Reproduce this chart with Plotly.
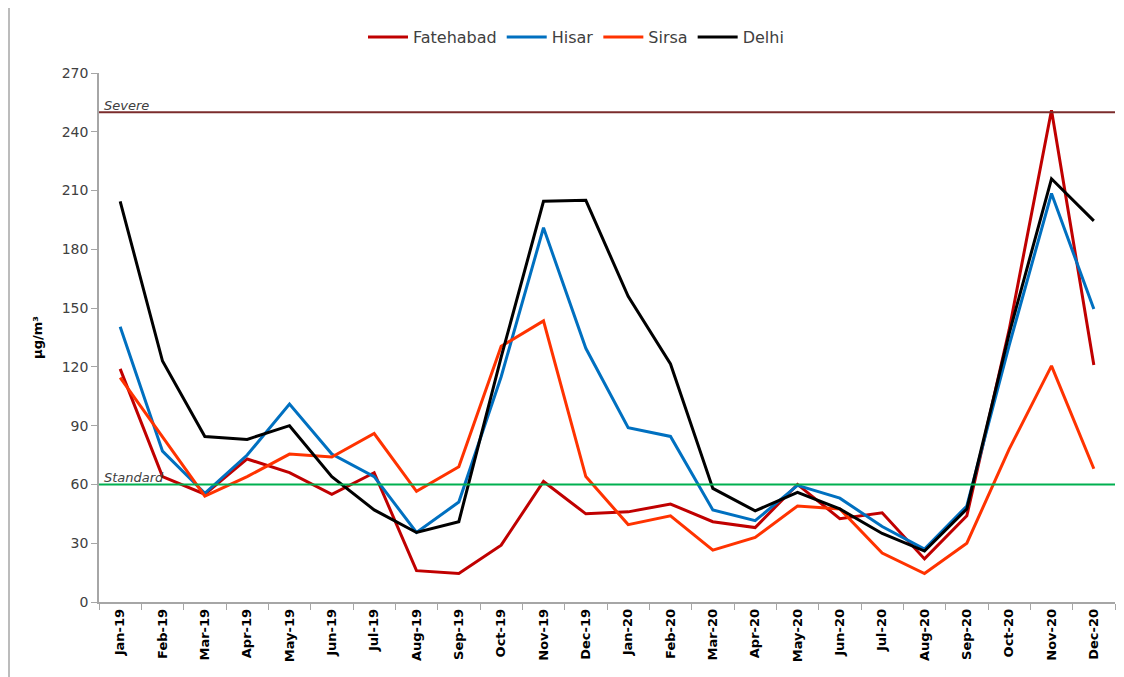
import plotly.graph_objects as go

months = ["Jan-19", "Feb-19", "Mar-19", "Apr-19", "May-19", "Jun-19", "Jul-19", "Aug-19",
          "Sep-19", "Oct-19", "Nov-19", "Dec-19", "Jan-20", "Feb-20", "Mar-20", "Apr-20",
          "May-20", "Jun-20", "Jul-20", "Aug-20", "Sep-20", "Oct-20", "Nov-20", "Dec-20"]

fatehabad = [119, 64, 55, 73, 66, 55, 66, 16, 14.5, 29, 61.5, 45, 46, 50, 41, 38,
             60, 42.5, 45.5, 22, 44, 139, 251, 121]
hisar = [140.5, 77, 55.5, 75, 101, 75.5, 64, 35.5, 51, 115, 191, 129.5, 89, 84.5, 47, 41.5,
         59.5, 53, 38.5, 27, 49, 131, 208.5, 149.5]
sirsa = [114.5, 84, 54, 64, 75.5, 74, 86, 56.5, 69, 130.5, 143.5, 64, 39.5, 44, 26.5, 33,
         49, 47.5, 25, 14.5, 30, 78, 120.5, 68]
delhi = [204.5, 123, 84.5, 83, 90, 64, 47, 35.5, 41, 125, 204.5, 205, 156, 121.5, 58, 46.5,
         56, 47.5, 35, 26, 47.5, 137, 216, 194.5]

severe_level = 250
standard_level = 60
y_ticks = [0, 30, 60, 90, 120, 150, 180, 210, 240, 270]

FONT = "'DejaVu Sans', sans-serif"

L, R, T, B = 91, 17, 63, 83
W, H = 1124, 677
PW, PH = W - L - R, H - T - B

fig = go.Figure()
series = [("Fatehabad", fatehabad, "#C00000"),
          ("Hisar", hisar, "#0070C0"),
          ("Sirsa", sirsa, "#FF3300"),
          ("Delhi", delhi, "#000000")]
for name, vals, col in series:
    fig.add_trace(go.Scatter(x=months, y=vals, name=name, mode="lines",
                             line=dict(color=col, width=3)))

fig.add_shape(type="line", xref="paper", yref="y", x0=0, x1=1,
              y0=severe_level, y1=severe_level, line=dict(color="#7B2C2C", width=2))
fig.add_shape(type="line", xref="paper", yref="y", x0=0, x1=1,
              y0=standard_level, y1=standard_level, line=dict(color="#00B050", width=2))
# outer chart border
fig.add_shape(type="rect", xref="paper", yref="paper",
              x0=-(L - 1) / PW, x1=1 + (R - 6) / PW, y0=-(B - 4) / PH, y1=1 + (T + 10) / PH,
              line=dict(color="#A6A6A6", width=1.5), layer="below")

fig.add_annotation(xref="paper", yref="y", x=0.003, y=severe_level, text="<i>Severe</i>",
                   showarrow=False, xanchor="left", yanchor="bottom", yshift=-3,
                   font=dict(family=FONT, size=13, color="#404040"))
fig.add_annotation(xref="paper", yref="y", x=0.003, y=standard_level, text="<i>Standard</i>",
                   showarrow=False, xanchor="left", yanchor="bottom", yshift=-3,
                   font=dict(family=FONT, size=13, color="#404040"))

fig.update_layout(
    width=W, height=H,
    margin=dict(l=L, r=R, t=T, b=B),
    paper_bgcolor="white", plot_bgcolor="white",
    font=dict(family=FONT, color="#404040"),
    showlegend=True,
    legend=dict(orientation="h", x=(576 - 8 - L) / PW, xanchor="center",
                y=1 + 36 / PH, yanchor="middle",
                font=dict(family=FONT, size=16, color="#404040"),
                itemwidth=40, tracegroupgap=0),
    xaxis=dict(type="category", categoryorder="array", categoryarray=months,
               range=[-0.5, len(months) - 0.5],
               tickson="boundaries", ticks="outside", ticklen=6, tickcolor="#A6A6A6",
               showline=True, linecolor="#A6A6A6", linewidth=1.5, showgrid=False,
               tickangle=-90, tickfont=dict(family=FONT, size=13, color="#000000"),
               tickprefix="<b>", ticksuffix="</b>", zeroline=False),
    yaxis=dict(range=[0, 270], tickvals=y_ticks, ticks="outside", ticklen=6,
               tickcolor="#A6A6A6", showline=True, linecolor="#A6A6A6", linewidth=1.5,
               showgrid=False, zeroline=False,
               tickfont=dict(family=FONT, size=14, color="#404040"),
               title=dict(text="<b>µg/m³</b>", standoff=16,
                          font=dict(family=FONT, size=13, color="#000000"))),
)

fig.write_html("out.html")
